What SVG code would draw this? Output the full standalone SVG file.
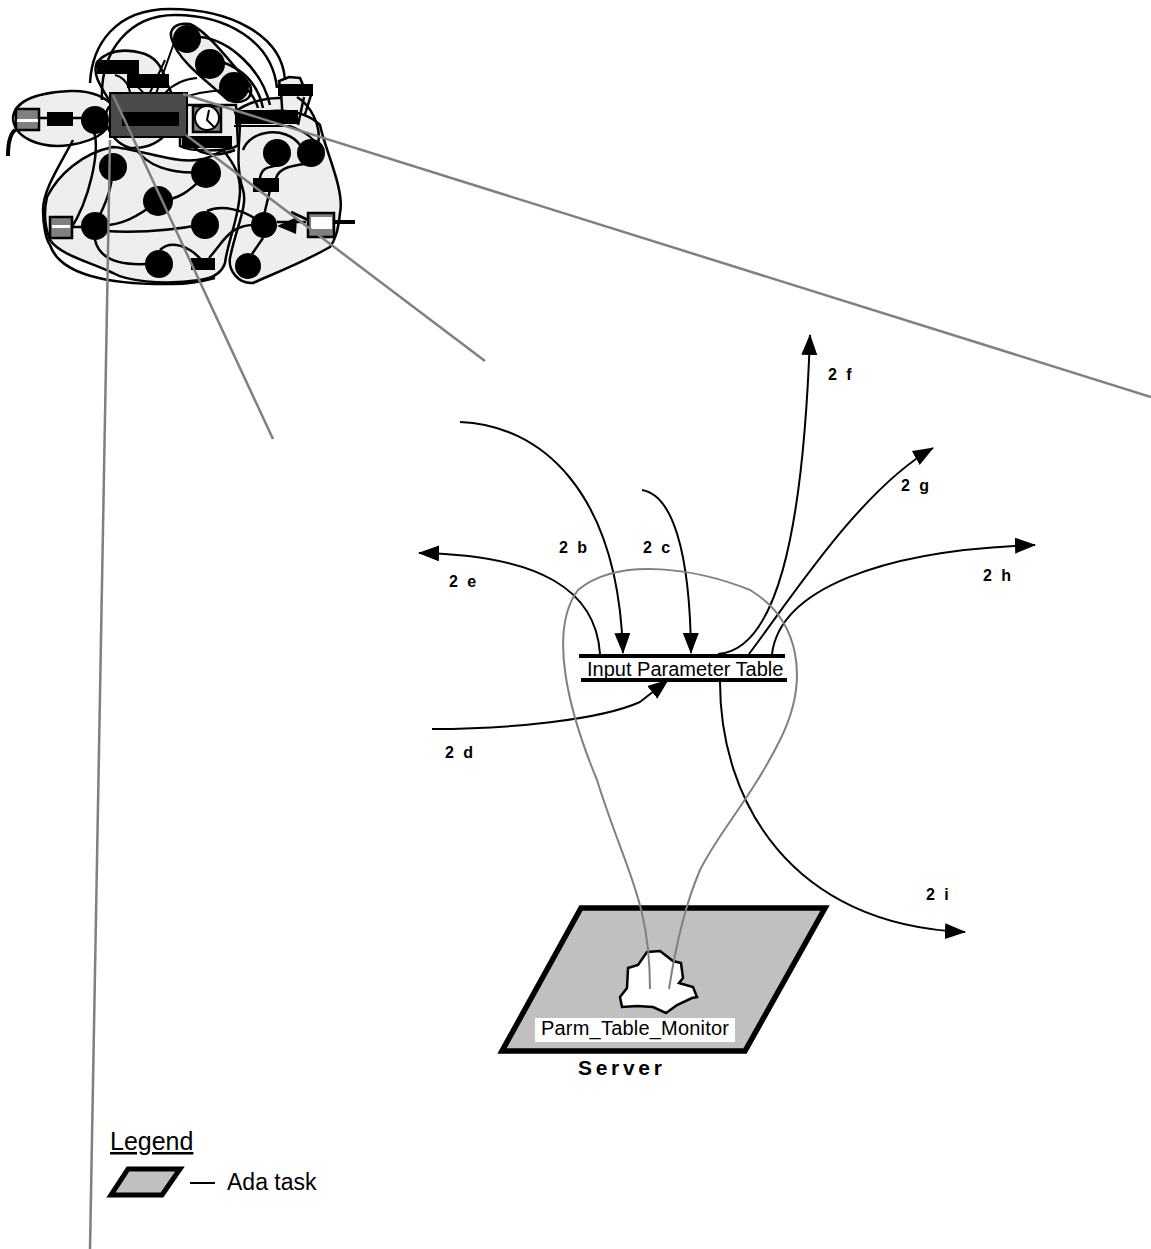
<svg xmlns="http://www.w3.org/2000/svg" width="1151" height="1249" viewBox="0 0 1151 1249">
<defs>
<style>
.c{fill:none;stroke:#000;stroke-width:2}
.k{fill:none;stroke:#000;stroke-width:2.5}
.g{fill:none;stroke:#808080;stroke-width:2.5}
.h{fill:none;stroke:#808080;stroke-width:2}
.bl{fill:#eee;stroke:#000;stroke-width:2.5}
.lb{font-family:"Liberation Sans",Arial,sans-serif;font-size:20px;fill:#000}
.b{font-family:"Liberation Sans",Arial,sans-serif;font-size:16px;font-weight:bold;fill:#000;letter-spacing:2.4px}
.s{fill:#808080;stroke:#000;stroke-width:2.5}
</style>
<marker id="a" markerUnits="userSpaceOnUse" markerWidth="24" markerHeight="18" refX="20" refY="8" orient="auto"><path d="M0 0L21 8L0 16Z" fill="#000"/></marker>
</defs>
<g id="blobs">
<path class="bl" d="M13 118C14 104 30 93 70 91C92 90 108 98 114 108C112 130 100 140 70 145C40 149 14 138 13 118Z"/>
<path class="bl" d="M97 62C108 50 125 48 145 54C160 60 163 72 168 85C185 120 165 150 130 148C105 140 100 110 112 105C100 85 92 75 97 62Z"/>
<path class="bl" d="M172 40C168 30 175 22 190 24C205 30 225 55 250 85C255 100 240 105 228 100C205 80 178 60 172 40Z"/>
<path class="bl" d="M180 105L236 105L238 145C230 152 190 152 180 146Z"/>
<path class="bl" d="M235 112C250 100 270 98 278 98L300 98L300 125L240 126Z"/>
<path class="bl" d="M281 92L279 81L289 77L300 78L303 85L311 95L302 124L283 122Z"/>
<path class="bl" d="M240 122C255 108 300 105 320 125C325 150 345 190 340 213C338 232 335 240 330 247C300 264 270 275 253 283C238 284 228 270 230 258C236 228 248 205 243 190C235 165 240 140 240 122Z"/>
<path class="bl" d="M47 197C58 175 82 153 113 147C130 148 160 158 180 160C200 162 210 158 223 150C235 165 240 175 240 190C240 215 228 240 225 263C222 272 215 278 200 280C160 286 125 280 113 273C90 262 60 255 50 240C44 225 44 210 47 197Z"/>
</g>
<g id="connectors">
<path class="k" d="M90 83C92 45 115 9 170 9C230 9 282 35 285 80"/>
<path class="k" d="M102 100C100 50 130 15 175 15C225 15 272 40 277 88"/>
<path class="k" d="M73 140C60 165 43 190 43 210C43 225 46 240 50 245C60 275 110 285 173 284C190 284 200 282 215 278"/>
<path class="k" d="M200 37C230 40 262 70 270 105"/>
<path class="k" d="M222 62C245 70 258 85 263 108"/>
<path class="k" d="M248 90C252 95 256 100 258 108"/>
<path class="c" d="M175 40L152 105M165 60L135 125"/>
<path class="c" d="M197 78C170 80 155 100 150 125"/>
<path class="c" d="M225 90C190 92 165 100 155 125"/>
<path class="c" d="M115 75C135 80 130 105 135 130M135 85C150 95 150 110 153 125"/>
<path class="c" d="M110 115C118 128 130 130 145 127"/>
<path class="k" d="M94 132C100 150 90 200 70 230"/>
<path class="k" d="M113 167C112 190 105 205 95 225"/>
<path class="k" d="M135 147C145 165 170 175 206 172"/>
<path class="k" d="M158 201C180 200 190 190 206 175"/>
<path class="k" d="M95 225C120 228 140 215 158 201"/>
<path class="k" d="M105 231C140 233 175 230 205 224"/>
<path class="k" d="M95 240C100 262 125 265 146 264"/>
<path class="k" d="M160 250C170 240 190 245 203 262"/>
<path class="k" d="M207 211C220 205 245 208 263 225"/>
<path class="k" d="M263 225C230 222 225 240 209 258"/>
<path class="k" d="M263 238L252 254"/>
<path class="k" d="M190 140C195 155 215 158 235 150"/>
<path class="k" d="M243 150C250 130 285 125 300 145"/>
<path class="k" d="M260 178C262 165 272 168 277 165"/>
<path class="k" d="M276 178C280 165 300 165 311 163"/>
<path class="k" d="M270 190L264 215"/>
<path class="k" d="M297 97C310 105 322 125 318 145"/>
<path class="k" d="M304 97L298 125"/>
<path class="c" d="M234 126L290 126C300 130 312 135 322 150"/>
<path d="M8 156C8 145 9 135 15 130" fill="none" stroke="#000" stroke-width="4"/>
<path class="k" d="M38 118L48 118M72 118L82 118"/>
<path class="k" d="M72 227L83 227"/>
<path class="k" d="M277 222L306 222"/>
<path d="M332 222L355 222" fill="none" stroke="#000" stroke-width="4"/>
<path d="M277 226L297 217L296 234Z" fill="#000"/>
<path d="M291 212L308 220" fill="none" stroke="#000" stroke-width="3"/>
<path class="c" d="M460 422C540 425 618 490 623 653" marker-end="url(#a)"/>
<path class="c" d="M642 490C672 495 690 550 691 653" marker-end="url(#a)"/>
<path class="c" d="M432 729C510 729 600 720 640 702L668 680" marker-end="url(#a)"/>
<path class="c" d="M600 654C596 590 540 555 419 553" marker-end="url(#a)"/>
<path class="c" d="M718 654C775 650 803 540 810 335" marker-end="url(#a)"/>
<path class="c" d="M749 654C790 600 860 490 933 448" marker-end="url(#a)"/>
<path class="c" d="M772 654C780 590 880 550 1035 545" marker-end="url(#a)"/>
<path class="c" d="M720 682C720 800 790 925 965 932" marker-end="url(#a)"/>
</g>
<g id="server">
<path d="M581 908L825 908L745 1051L502 1051Z" fill="#c0c0c0" stroke="#000" stroke-width="5.5"/>
<path d="M647 952L660 951L673 961L681 963L683 978L679 983L693 987L697 997L692 998L677 1005L666 1013L653 1007L637 1006L622 1007L620 997L627 988L628 968L638 965Z" fill="#fff" stroke="#000" stroke-width="2.5"/>
<rect x="535" y="1018" width="200" height="24" fill="#fff"/>
<text class="lb" x="541" y="1035" textLength="188">Parm_Table_Monitor</text>
<text x="578" y="1075" style="font-family:'Liberation Sans',Arial,sans-serif;font-size:21px;font-weight:bold;letter-spacing:3.7px">Server</text>
</g>
<g id="gray-lines">
<path class="h" d="M650 989C650 900 625 870 597 780C568 710 548 630 578 590C620 555 700 570 750 590C800 620 810 680 780 740C750 800 720 830 700 870C685 905 675 950 669 989"/>
</g>
<g id="table">
<path d="M579 656L785 656" stroke="#000" stroke-width="4" fill="none"/>
<path d="M581 680L787 680" stroke="#000" stroke-width="4" fill="none"/>
<text class="lb" x="587" y="676">Input Parameter Table</text>
</g>
<g id="labels">
<text class="b" x="559" y="553">2 b</text>
<text class="b" x="643" y="553">2 c</text>
<text class="b" x="445" y="758">2 d</text>
<text class="b" x="449" y="587">2 e</text>
<text class="b" x="828" y="380">2 f</text>
<text class="b" x="901" y="491">2 g</text>
<text class="b" x="983" y="581">2 h</text>
<text class="b" x="926" y="900">2 i</text>
</g>
<g id="legend">
<text x="110" y="1150" style="font-family:'Liberation Sans',Arial,sans-serif;font-size:25px;text-decoration:underline">Legend</text>
<path d="M128 1169L180 1169L162 1195L111 1195Z" fill="#c0c0c0" stroke="#000" stroke-width="5"/>
<path d="M190 1183L215 1183" stroke="#000" stroke-width="2" fill="none"/>
<text x="227" y="1190" style="font-family:'Liberation Sans',Arial,sans-serif;font-size:23px">Ada task</text>
</g>
<g id="tasks">
<rect x="110" y="93" width="77" height="44" fill="#4a4a4a" stroke="#000" stroke-width="2"/>
<rect x="97" y="60" width="42" height="14"/>
<rect x="127" y="74" width="42" height="14"/>
<rect x="122" y="112" width="57" height="14"/>
<rect x="47" y="112" width="26" height="14"/>
<rect x="182" y="136" width="50" height="12"/>
<rect x="235" y="110" width="63" height="14"/>
<rect x="278" y="84" width="35" height="12"/>
<rect x="253" y="178" width="26" height="14"/>
<rect x="191" y="258" width="24" height="12"/>
<g id="stores">
<rect x="16" y="109" width="23" height="21" class="s"/><rect x="17" y="119" width="21" height="3" fill="#fff"/>
<rect x="50" y="217" width="22" height="21" class="s"/><rect x="52" y="225" width="18" height="3" fill="#fff"/>
<rect x="308" y="213" width="26" height="24" class="s"/><rect x="311" y="217" width="21" height="12" fill="#fff"/>
<rect x="193" y="106" width="28" height="26" class="s"/><circle cx="207" cy="118" r="12" fill="#fff" stroke="#000" stroke-width="2"/><path d="M209 110L207 120L214 127" fill="none" stroke="#000" stroke-width="2"/>
</g>
<circle cx="95" cy="120" r="14"/>
<circle cx="187" cy="39" r="14"/>
<circle cx="210" cy="64" r="15"/>
<circle cx="234" cy="87" r="15"/>
<circle cx="113" cy="167" r="14"/>
<circle cx="206" cy="173" r="15"/>
<circle cx="158" cy="201" r="15"/>
<circle cx="95" cy="226" r="14"/>
<circle cx="205" cy="225" r="14"/>
<circle cx="159" cy="264" r="14"/>
<circle cx="264" cy="225" r="13"/>
<circle cx="248" cy="266" r="13"/>
<circle cx="277" cy="153" r="14"/>
<circle cx="311" cy="153" r="14"/>
</g>
<g id="projection-lines">
<path class="g" d="M113 95L273 439"/>
<path class="g" d="M186 135L485 361"/>
<path class="g" d="M183 94L1151 397"/>
<path class="g" d="M110 140L90 1249"/>
</g>
</svg>
